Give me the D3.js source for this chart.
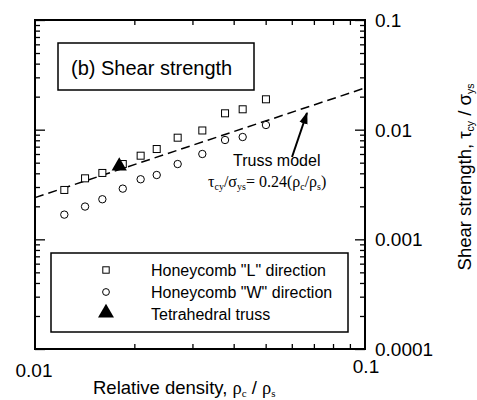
<!DOCTYPE html>
<html>
<head>
<meta charset="utf-8">
<script src="https://d3js.org/d3.v7.min.js"></script>
<style>
  body { margin: 0; background: #fff; }
  text { font-family: "Liberation Sans", Arial, sans-serif; fill: #000; }
  .serif { font-family: "Liberation Serif", "Times New Roman", serif; }
</style>
</head>
<body>
<div id="chart"></div>
<script>
// relative density rho_c/rho_s shared by both honeycomb series
var density = [0.01227, 0.01418, 0.0160, 0.01845, 0.0209, 0.02338, 0.02706, 0.03214, 0.03766, 0.04259, 0.0501];
var shearL = [0.00282, 0.00360, 0.00403, 0.00486, 0.00579, 0.00666, 0.00845, 0.00983, 0.01410, 0.01534, 0.01892];
var shearW = [0.00168, 0.00199, 0.00232, 0.00290, 0.00353, 0.00386, 0.00486, 0.00600, 0.00805, 0.00857, 0.01103];
var trussX = [0.0180];
var trussY = [0.00466];
// truss model line tau/sigma = 0.24 (rho_c/rho_s), end points
var modelX = [0.01, 0.1];
var modelY = [0.0024, 0.024];
var xTickLabels = ["0.01", "0.1"];
var yTickLabels = ["0.0001", "0.001", "0.01", "0.1"];
var legendLabels = ['Honeycomb "L" direction', 'Honeycomb "W" direction', 'Tetrahedral truss'];

var W = 477, H = 400;
var pL = 35, pR = 365, pT = 20, pB = 349;

var svg = d3.select("#chart").append("svg")
    .attr("width", W)
    .attr("height", H);

var x = d3.scaleLog().domain([0.01, 0.1]).range([pL, pR]);
var y = d3.scaleLog().domain([0.0001, 0.1]).range([pB, pT]);

var xMinor = [0.02, 0.03, 0.04, 0.05, 0.06, 0.07, 0.08, 0.09];
var yMajor = yTickLabels.map(Number);
var yMinor = [];
yMajor.slice(0, 3).forEach(function(d) {
    for (var k = 2; k <= 9; k++) yMinor.push(d * k);
});

function noText(g) { g.selectAll("text").remove(); g.select(".domain").remove(); }

// ticks, all pointing inwards
svg.append("g").attr("transform", "translate(0," + pB + ")")
    .call(d3.axisBottom(x).tickValues(xMinor).tickSize(-5)).call(noText);
svg.append("g").attr("transform", "translate(0," + pT + ")")
    .call(d3.axisTop(x).tickValues(xMinor).tickSize(-5)).call(noText);
[[pL, d3.axisLeft], [pR, d3.axisRight]].forEach(function(a) {
    svg.append("g").attr("transform", "translate(" + a[0] + ",0)")
        .call(a[1](y).tickValues(yMajor).tickSize(-10)).call(noText);
    svg.append("g").attr("transform", "translate(" + a[0] + ",0)")
        .call(a[1](y).tickValues(yMinor).tickSize(-5)).call(noText);
});
svg.selectAll(".tick line").attr("stroke", "#000").attr("stroke-width", 1.3);

// frame
svg.append("rect")
    .attr("x", pL).attr("y", pT)
    .attr("width", pR - pL).attr("height", pB - pT)
    .attr("fill", "none").attr("stroke", "#000").attr("stroke-width", 2);

// tick labels
svg.append("text").attr("x", x(0.01) - 1).attr("y", 377)
    .attr("text-anchor", "middle").style("font-size", "19px").text(xTickLabels[0]);
svg.append("text").attr("x", x(0.1) + 1).attr("y", 373)
    .attr("text-anchor", "middle").style("font-size", "19px").text(xTickLabels[1]);
svg.selectAll(".ylab").data(yTickLabels).enter().append("text")
    .attr("x", 375)
    .attr("y", function(d) { return y(+d) + 7; })
    .style("font-size", "19px")
    .text(function(d) { return d; });

// axis titles
var xt = svg.append("text").attr("x", 93).attr("y", 394).style("font-size", "18.5px");
xt.append("tspan").text("Relative density, ");
xt.append("tspan").attr("class", "serif").text("ρ");
xt.append("tspan").attr("class", "serif").attr("dy", 3).style("font-size", "11px").text("c");
xt.append("tspan").attr("dy", -3).text(" / ");
xt.append("tspan").attr("class", "serif").text("ρ");
xt.append("tspan").attr("class", "serif").attr("dy", 3).style("font-size", "11px").text("s");

var yt = svg.append("text")
    .attr("transform", "translate(471,177) rotate(-90)")
    .attr("text-anchor", "middle").style("font-size", "18.5px");
yt.append("tspan").text("Shear strength, τ");
yt.append("tspan").attr("dy", 2.5).style("font-size", "10.5px").text("cy");
yt.append("tspan").attr("dy", -2.5).text(" / σ");
yt.append("tspan").attr("dy", 2.5).style("font-size", "10.5px").text("ys");

// truss model line
var line = d3.line().x(function(d) { return x(d[0]); }).y(function(d) { return y(d[1]); });
svg.append("path")
    .datum(d3.zip(modelX, modelY))
    .attr("d", line)
    .attr("fill", "none").attr("stroke", "#000")
    .attr("stroke-width", 1.5).attr("stroke-dasharray", "9,5");

// data
var sq = 7;
svg.selectAll(".sqL").data(d3.zip(density, shearL)).enter().append("rect")
    .attr("x", function(d) { return x(d[0]) - sq / 2; })
    .attr("y", function(d) { return y(d[1]) - sq / 2; })
    .attr("width", sq).attr("height", sq)
    .attr("fill", "#fff").attr("stroke", "#000").attr("stroke-width", 1);
svg.selectAll(".cW").data(d3.zip(density, shearW)).enter().append("circle")
    .attr("cx", function(d) { return x(d[0]); })
    .attr("cy", function(d) { return y(d[1]); })
    .attr("r", 3.7)
    .attr("fill", "#fff").attr("stroke", "#000").attr("stroke-width", 1);
var tri = d3.symbol().type(d3.symbolTriangle).size(100);
svg.selectAll(".tri").data(d3.zip(trussX, trussY)).enter().append("path")
    .attr("d", tri)
    .attr("transform", function(d) { return "translate(" + x(d[0]) + "," + y(d[1]) + ")"; })
    .attr("fill", "#000");

// title box
svg.append("rect").attr("x", 58).attr("y", 43).attr("width", 196).attr("height", 47)
    .attr("fill", "#fff").attr("stroke", "#000").attr("stroke-width", 1.5);
svg.append("text").attr("x", 71).attr("y", 75).style("font-size", "20px").text("(b) Shear strength");

// annotation
svg.append("defs").append("marker")
    .attr("id", "head").attr("viewBox", "0 0 10 10")
    .attr("refX", 9).attr("refY", 5)
    .attr("markerWidth", 6).attr("markerHeight", 6)
    .attr("orient", "auto")
  .append("path").attr("d", "M0,1.5L10,5L0,8.5Z").attr("fill", "#000");
svg.append("line")
    .attr("x1", x(0.0601)).attr("y1", y(0.00563))
    .attr("x2", x(0.0667)).attr("y2", y(0.01419))
    .attr("stroke", "#000").attr("stroke-width", 2)
    .attr("marker-end", "url(#head)");
svg.append("text").attr("x", 233).attr("y", 166).style("font-size", "16px").text("Truss model");
var eq = svg.append("text").attr("class", "serif").attr("x", 208).attr("y", 187).style("font-size", "16px");
eq.append("tspan").text("τ");
eq.append("tspan").attr("dy", 3).style("font-size", "10px").text("cy");
eq.append("tspan").attr("dy", -3).text("/σ");
eq.append("tspan").attr("dy", 3).style("font-size", "10px").text("ys");
eq.append("tspan").attr("dy", -3).text("= 0.24(ρ");
eq.append("tspan").attr("dy", 3).style("font-size", "10px").text("c");
eq.append("tspan").attr("dy", -3).text("/ρ");
eq.append("tspan").attr("dy", 3).style("font-size", "10px").text("s");
eq.append("tspan").attr("dy", -3).text(")");

// legend
svg.append("rect").attr("x", 51).attr("y", 253).attr("width", 297).attr("height", 79)
    .attr("fill", "#fff").attr("stroke", "#000").attr("stroke-width", 1.5);
var rowY = [270, 292, 314];
svg.append("rect").attr("x", 106 - 3.2).attr("y", rowY[0] - 3.2).attr("width", 6.4).attr("height", 6.4)
    .attr("fill", "#fff").attr("stroke", "#000");
svg.append("circle").attr("cx", 106).attr("cy", rowY[1]).attr("r", 3.4)
    .attr("fill", "#fff").attr("stroke", "#000");
svg.append("path").attr("d", d3.symbol().type(d3.symbolTriangle).size(110))
    .attr("transform", "translate(106," + (rowY[2] - 1) + ")").attr("fill", "#000");
svg.selectAll(".leg").data(legendLabels).enter().append("text")
    .attr("x", 151)
    .attr("y", function(d, i) { return rowY[i] + 6; })
    .style("font-size", "16px")
    .text(function(d) { return d; });
</script>
</body>
</html>
